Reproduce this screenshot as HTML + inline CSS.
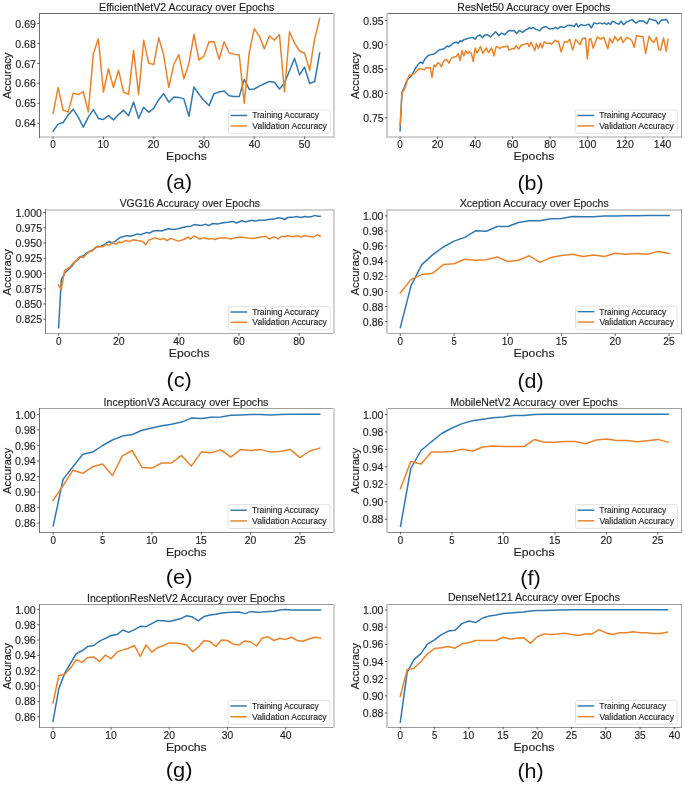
<!DOCTYPE html>
<html><head><meta charset="utf-8"><style>
html,body{margin:0;padding:0;background:#fff;}
svg{display:block;}
text{font-family:"Liberation Sans",sans-serif;}
</style></head><body>
<svg width="685" height="786" viewBox="0 0 685 786">
<defs><filter id="soft" x="0" y="0" width="100%" height="100%" filterUnits="userSpaceOnUse"><feGaussianBlur stdDeviation="0.45"/></filter></defs>
<rect width="685" height="786" fill="#fff"/>
<g filter="url(#soft)">
<clipPath id="ca"><rect x="39.5" y="13.4" width="294.5" height="123.19999999999999"/></clipPath>
<g clip-path="url(#ca)">
<polyline points="53.10,131.20 58.13,124.10 63.16,122.50 68.19,114.90 73.22,109.30 78.25,117.20 83.28,127.10 88.31,117.20 93.34,109.60 98.37,118.40 103.40,119.50 108.43,115.70 113.46,119.90 118.49,114.50 123.52,110.30 128.55,115.70 133.58,101.90 138.61,118.40 143.64,107.30 148.67,112.30 153.70,108.30 158.73,99.70 163.76,93.60 168.79,102.20 173.82,97.10 178.85,97.40 183.88,98.90 188.91,116.40 193.94,87.00 198.97,94.30 204.00,100.40 209.03,105.60 214.06,93.60 219.09,92.00 224.12,91.00 229.15,95.80 234.18,96.60 239.21,96.60 244.24,79.40 249.27,89.40 254.30,89.00 259.33,86.10 264.36,83.80 269.39,81.40 274.42,82.30 279.45,89.00 284.48,83.00 289.51,70.70 294.54,58.40 299.57,74.90 304.60,67.20 309.63,83.50 314.66,81.50 319.69,53.20" fill="none" stroke="#3177ad" stroke-width="1.5" stroke-linejoin="round" stroke-linecap="square"/>
<polyline points="53.10,113.40 58.13,87.50 63.16,110.30 68.19,111.90 73.22,93.10 78.25,94.60 83.28,91.70 88.31,111.90 93.34,53.90 98.37,38.60 103.40,92.00 108.43,68.70 113.46,87.50 118.49,70.20 123.52,92.00 128.55,94.40 133.58,50.40 138.61,94.60 143.64,40.20 148.67,63.00 153.70,64.60 158.73,37.60 163.76,55.40 168.79,87.50 173.82,64.10 178.85,54.70 183.88,78.80 188.91,63.50 193.94,34.50 198.97,60.00 204.00,56.20 209.03,41.70 214.06,41.70 219.09,59.20 224.12,41.70 229.15,52.80 234.18,54.40 239.21,54.70 244.24,103.20 249.27,52.40 254.30,28.70 259.33,36.20 264.36,48.90 269.39,35.80 274.42,40.20 279.45,34.50 284.48,92.00 289.51,31.70 294.54,43.20 299.57,51.00 304.60,53.20 309.63,70.40 314.66,38.60 319.69,18.30" fill="none" stroke="#e8832c" stroke-width="1.5" stroke-linejoin="round" stroke-linecap="square"/>
</g>
<rect x="39" y="13" width="296" height="1" fill="#6a6a6a"/>
<rect x="39" y="136" width="296" height="2" fill="#d2d2d2"/>
<rect x="39" y="13" width="1" height="125" fill="#707070"/>
<rect x="333" y="13" width="2" height="125" fill="#d2d2d2"/>
<line x1="53.10" y1="136.6" x2="53.10" y2="138.9" stroke="#3a3a3a" stroke-width="0.8"/>
<text x="50.33" y="148.00" font-size="10.0" textLength="5.50" lengthAdjust="spacingAndGlyphs" fill="#1e1e1e" stroke="#1e1e1e" stroke-width="0.14">0</text>
<line x1="103.40" y1="136.6" x2="103.40" y2="138.9" stroke="#3a3a3a" stroke-width="0.8"/>
<text x="97.48" y="148.00" font-size="10.0" textLength="11.45" lengthAdjust="spacingAndGlyphs" fill="#1e1e1e" stroke="#1e1e1e" stroke-width="0.14">10</text>
<line x1="153.70" y1="136.6" x2="153.70" y2="138.9" stroke="#3a3a3a" stroke-width="0.8"/>
<text x="147.87" y="148.00" font-size="10.0" textLength="11.53" lengthAdjust="spacingAndGlyphs" fill="#1e1e1e" stroke="#1e1e1e" stroke-width="0.14">20</text>
<line x1="204.00" y1="136.6" x2="204.00" y2="138.9" stroke="#3a3a3a" stroke-width="0.8"/>
<text x="198.28" y="148.00" font-size="10.0" textLength="11.42" lengthAdjust="spacingAndGlyphs" fill="#1e1e1e" stroke="#1e1e1e" stroke-width="0.14">30</text>
<line x1="254.30" y1="136.6" x2="254.30" y2="138.9" stroke="#3a3a3a" stroke-width="0.8"/>
<text x="248.67" y="148.00" font-size="10.0" textLength="11.45" lengthAdjust="spacingAndGlyphs" fill="#1e1e1e" stroke="#1e1e1e" stroke-width="0.14">40</text>
<line x1="304.60" y1="136.6" x2="304.60" y2="138.9" stroke="#3a3a3a" stroke-width="0.8"/>
<text x="298.88" y="148.00" font-size="10.0" textLength="11.42" lengthAdjust="spacingAndGlyphs" fill="#1e1e1e" stroke="#1e1e1e" stroke-width="0.14">50</text>
<line x1="37.2" y1="23.50" x2="39.5" y2="23.50" stroke="#3a3a3a" stroke-width="0.8"/>
<text x="15.33" y="27.60" font-size="10.0" textLength="20.56" lengthAdjust="spacingAndGlyphs" fill="#1e1e1e" stroke="#1e1e1e" stroke-width="0.14">0.69</text>
<line x1="37.2" y1="43.46" x2="39.5" y2="43.46" stroke="#3a3a3a" stroke-width="0.8"/>
<text x="15.28" y="47.56" font-size="10.0" textLength="20.55" lengthAdjust="spacingAndGlyphs" fill="#1e1e1e" stroke="#1e1e1e" stroke-width="0.14">0.68</text>
<line x1="37.2" y1="63.42" x2="39.5" y2="63.42" stroke="#3a3a3a" stroke-width="0.8"/>
<text x="15.47" y="67.52" font-size="10.0" textLength="20.47" lengthAdjust="spacingAndGlyphs" fill="#1e1e1e" stroke="#1e1e1e" stroke-width="0.14">0.67</text>
<line x1="37.2" y1="83.38" x2="39.5" y2="83.38" stroke="#3a3a3a" stroke-width="0.8"/>
<text x="15.24" y="87.48" font-size="10.0" textLength="20.60" lengthAdjust="spacingAndGlyphs" fill="#1e1e1e" stroke="#1e1e1e" stroke-width="0.14">0.66</text>
<line x1="37.2" y1="103.34" x2="39.5" y2="103.34" stroke="#3a3a3a" stroke-width="0.8"/>
<text x="15.48" y="107.44" font-size="10.0" textLength="20.36" lengthAdjust="spacingAndGlyphs" fill="#1e1e1e" stroke="#1e1e1e" stroke-width="0.14">0.65</text>
<line x1="37.2" y1="123.30" x2="39.5" y2="123.30" stroke="#3a3a3a" stroke-width="0.8"/>
<text x="15.19" y="127.40" font-size="10.0" textLength="20.54" lengthAdjust="spacingAndGlyphs" fill="#1e1e1e" stroke="#1e1e1e" stroke-width="0.14">0.64</text>
<text x="99.05" y="10.90" font-size="10.0" textLength="175.32" lengthAdjust="spacingAndGlyphs" fill="#1e1e1e" stroke="#1e1e1e" stroke-width="0.14">EfficientNetV2 Accuracy over Epochs</text>
<text x="166.12" y="160.20" font-size="11.6" textLength="40.71" lengthAdjust="spacingAndGlyphs" fill="#1e1e1e" stroke="#1e1e1e" stroke-width="0.14">Epochs</text>
<text transform="translate(10.70,99.10) rotate(-90)" x="0" y="0" font-size="10.9" textLength="46.63" lengthAdjust="spacingAndGlyphs" fill="#1e1e1e" stroke="#1e1e1e" stroke-width="0.14">Accuracy</text>
<rect x="228.4" y="110" width="101.99999999999997" height="23.30000000000001" rx="1.8" fill="#fff" fill-opacity="0.85" stroke="#d6d6d6" stroke-width="0.7"/>
<line x1="230.6" y1="115.48" x2="247.20000000000002" y2="115.48" stroke="#3177ad" stroke-width="1.45"/>
<line x1="230.6" y1="125.96" x2="247.20000000000002" y2="125.96" stroke="#e8832c" stroke-width="1.45"/>
<text x="252.23" y="118.48" font-size="8.6" textLength="66.78" lengthAdjust="spacingAndGlyphs" fill="#1e1e1e" stroke="#1e1e1e" stroke-width="0.14">Training Accuracy</text>
<text x="252.36" y="128.96" font-size="8.6" textLength="74.53" lengthAdjust="spacingAndGlyphs" fill="#1e1e1e" stroke="#1e1e1e" stroke-width="0.14">Validation Accuracy</text>
<text x="166.02" y="189.40" font-size="20.8" textLength="26.00" lengthAdjust="spacingAndGlyphs" fill="#111">(a)</text>
<clipPath id="cb"><rect x="387.2" y="13.4" width="294.2" height="123.19999999999999"/></clipPath>
<g clip-path="url(#cb)">
<polyline points="400.10,130.70 401.98,91.80 403.85,88.70 405.73,83.40 407.60,79.60 409.48,77.30 411.36,75.80 413.23,72.70 415.11,68.90 416.98,65.90 418.86,63.60 420.74,62.00 422.61,63.60 424.49,59.80 426.36,57.50 428.24,55.50 430.12,54.90 431.99,54.40 433.87,54.00 435.74,52.90 437.62,50.90 439.50,49.80 441.37,49.40 443.25,49.10 445.12,47.90 447.00,46.00 448.88,46.80 450.75,45.30 452.63,43.70 454.50,42.70 456.38,42.20 458.26,43.30 460.13,40.70 462.01,41.50 463.88,39.60 465.76,39.20 467.64,38.40 469.51,38.10 471.39,37.60 473.26,37.60 475.14,39.20 477.02,36.60 479.85,34.76 482.48,37.65 484.45,35.28 487.74,34.76 490.37,36.99 495.62,31.74 498.91,35.68 501.53,33.05 504.82,34.76 508.76,30.42 512.04,30.82 514.02,30.42 516.64,33.45 519.27,30.42 522.56,32.39 525.18,30.42 529.12,27.80 531.10,28.72 533.07,27.40 535.69,29.11 539.64,30.82 542.26,27.80 546.21,26.48 548.83,28.72 553.43,28.72 555.40,27.40 557.37,28.72 557.90,28.70 560.50,26.70 564.50,27.40 567.10,25.60 571.00,25.20 574.30,26.50 576.30,23.50 578.20,26.90 580.90,24.50 584.20,25.60 588.80,24.20 591.40,27.80 594.00,22.90 597.30,23.90 599.90,22.90 602.60,23.90 604.50,22.90 606.50,24.50 608.50,22.90 610.40,24.50 612.40,21.20 615.70,22.90 619.00,24.20 621.00,21.20 623.60,24.80 626.90,21.60 628.50,21.40 632.00,19.50 636.00,23.10 639.90,20.70 643.40,20.90 646.90,23.60 649.50,18.60 653.00,20.10 655.70,20.50 658.30,24.00 661.80,19.80 664.00,20.10 666.20,19.20 668.40,22.70" fill="none" stroke="#3177ad" stroke-width="1.5" stroke-linejoin="round" stroke-linecap="square"/>
<polyline points="400.10,125.00 401.98,92.60 403.85,90.30 405.73,85.70 407.60,78.80 409.48,75.00 411.36,74.70 413.23,74.30 415.11,72.70 416.98,70.70 418.86,69.20 420.74,68.60 422.61,69.20 424.49,69.70 426.36,67.40 428.24,68.10 430.12,67.40 431.99,77.30 433.87,65.10 435.74,66.60 437.62,62.80 439.50,63.60 441.37,66.60 443.25,62.00 445.12,59.80 447.00,59.80 448.88,63.10 450.75,59.00 452.63,57.50 454.50,57.00 456.38,56.40 458.26,53.70 460.13,60.50 462.01,50.60 463.88,55.90 465.76,50.60 467.64,53.70 469.51,51.80 471.39,53.40 473.26,61.60 475.14,47.90 477.02,52.90 480.51,46.58 482.88,53.42 486.42,47.90 488.39,52.76 491.68,47.90 493.91,55.78 496.28,46.19 499.56,48.42 502.85,46.85 505.47,46.85 507.45,45.80 509.15,50.13 512.70,48.42 514.02,49.21 516.25,45.53 518.61,49.21 521.24,45.27 525.18,43.96 527.81,43.56 529.12,46.58 531.10,42.25 532.41,45.27 534.77,50.53 536.35,43.56 538.32,48.42 540.29,43.17 542.26,47.90 544.23,41.85 547.52,43.56 550.15,42.91 551.46,44.22 555.40,40.28 557.37,41.85 558.50,41.30 561.20,52.10 564.50,41.60 567.10,42.20 569.70,39.20 572.60,50.10 575.60,39.60 580.20,44.50 582.20,38.70 585.50,37.90 587.40,58.90 589.40,38.70 591.00,39.00 593.10,48.20 597.30,37.00 600.60,39.00 603.90,37.40 607.80,48.80 609.80,38.30 612.40,42.90 615.00,36.60 617.70,40.90 621.00,37.00 622.90,42.60 626.90,37.40 630.80,39.60 632.00,41.10 634.20,47.20 636.40,35.80 643.00,36.70 645.60,53.40 649.10,36.30 652.20,41.50 653.90,42.20 656.50,37.30 658.70,49.40 660.50,50.10 663.50,38.00 666.20,51.20 668.10,39.30" fill="none" stroke="#e8832c" stroke-width="1.5" stroke-linejoin="round" stroke-linecap="square"/>
</g>
<rect x="386" y="13" width="296" height="1" fill="#6a6a6a"/>
<rect x="386" y="136" width="296" height="2" fill="#d2d2d2"/>
<rect x="386" y="13" width="2" height="125" fill="#cacaca"/>
<rect x="681" y="13" width="1" height="125" fill="#a0a0a0"/>
<line x1="400.10" y1="136.6" x2="400.10" y2="138.9" stroke="#3a3a3a" stroke-width="0.8"/>
<text x="397.33" y="148.00" font-size="10.0" textLength="5.50" lengthAdjust="spacingAndGlyphs" fill="#1e1e1e" stroke="#1e1e1e" stroke-width="0.14">0</text>
<line x1="437.62" y1="136.6" x2="437.62" y2="138.9" stroke="#3a3a3a" stroke-width="0.8"/>
<text x="431.79" y="148.00" font-size="10.0" textLength="11.53" lengthAdjust="spacingAndGlyphs" fill="#1e1e1e" stroke="#1e1e1e" stroke-width="0.14">20</text>
<line x1="475.14" y1="136.6" x2="475.14" y2="138.9" stroke="#3a3a3a" stroke-width="0.8"/>
<text x="469.51" y="148.00" font-size="10.0" textLength="11.45" lengthAdjust="spacingAndGlyphs" fill="#1e1e1e" stroke="#1e1e1e" stroke-width="0.14">40</text>
<line x1="512.66" y1="136.6" x2="512.66" y2="138.9" stroke="#3a3a3a" stroke-width="0.8"/>
<text x="506.81" y="148.00" font-size="10.0" textLength="11.58" lengthAdjust="spacingAndGlyphs" fill="#1e1e1e" stroke="#1e1e1e" stroke-width="0.14">60</text>
<line x1="550.18" y1="136.6" x2="550.18" y2="138.9" stroke="#3a3a3a" stroke-width="0.8"/>
<text x="544.35" y="148.00" font-size="10.0" textLength="11.57" lengthAdjust="spacingAndGlyphs" fill="#1e1e1e" stroke="#1e1e1e" stroke-width="0.14">80</text>
<line x1="587.70" y1="136.6" x2="587.70" y2="138.9" stroke="#3a3a3a" stroke-width="0.8"/>
<text x="578.76" y="148.00" font-size="10.0" textLength="17.50" lengthAdjust="spacingAndGlyphs" fill="#1e1e1e" stroke="#1e1e1e" stroke-width="0.14">100</text>
<line x1="625.22" y1="136.6" x2="625.22" y2="138.9" stroke="#3a3a3a" stroke-width="0.8"/>
<text x="616.28" y="148.00" font-size="10.0" textLength="17.50" lengthAdjust="spacingAndGlyphs" fill="#1e1e1e" stroke="#1e1e1e" stroke-width="0.14">120</text>
<line x1="662.74" y1="136.6" x2="662.74" y2="138.9" stroke="#3a3a3a" stroke-width="0.8"/>
<text x="653.80" y="148.00" font-size="10.0" textLength="17.50" lengthAdjust="spacingAndGlyphs" fill="#1e1e1e" stroke="#1e1e1e" stroke-width="0.14">140</text>
<line x1="384.9" y1="20.40" x2="387.2" y2="20.40" stroke="#3a3a3a" stroke-width="0.8"/>
<text x="363.18" y="24.50" font-size="10.0" textLength="20.36" lengthAdjust="spacingAndGlyphs" fill="#1e1e1e" stroke="#1e1e1e" stroke-width="0.14">0.95</text>
<line x1="384.9" y1="44.75" x2="387.2" y2="44.75" stroke="#3a3a3a" stroke-width="0.8"/>
<text x="362.99" y="48.85" font-size="10.0" textLength="20.50" lengthAdjust="spacingAndGlyphs" fill="#1e1e1e" stroke="#1e1e1e" stroke-width="0.14">0.90</text>
<line x1="384.9" y1="69.10" x2="387.2" y2="69.10" stroke="#3a3a3a" stroke-width="0.8"/>
<text x="363.18" y="73.20" font-size="10.0" textLength="20.36" lengthAdjust="spacingAndGlyphs" fill="#1e1e1e" stroke="#1e1e1e" stroke-width="0.14">0.85</text>
<line x1="384.9" y1="93.45" x2="387.2" y2="93.45" stroke="#3a3a3a" stroke-width="0.8"/>
<text x="362.99" y="97.55" font-size="10.0" textLength="20.50" lengthAdjust="spacingAndGlyphs" fill="#1e1e1e" stroke="#1e1e1e" stroke-width="0.14">0.80</text>
<line x1="384.9" y1="117.80" x2="387.2" y2="117.80" stroke="#3a3a3a" stroke-width="0.8"/>
<text x="363.18" y="121.90" font-size="10.0" textLength="20.36" lengthAdjust="spacingAndGlyphs" fill="#1e1e1e" stroke="#1e1e1e" stroke-width="0.14">0.75</text>
<text x="457.36" y="10.60" font-size="10.0" textLength="152.99" lengthAdjust="spacingAndGlyphs" fill="#1e1e1e" stroke="#1e1e1e" stroke-width="0.14">ResNet50 Accuracy over Epochs</text>
<text x="513.62" y="160.10" font-size="11.6" textLength="40.81" lengthAdjust="spacingAndGlyphs" fill="#1e1e1e" stroke="#1e1e1e" stroke-width="0.14">Epochs</text>
<text transform="translate(359.20,99.00) rotate(-90)" x="0" y="0" font-size="10.9" textLength="46.63" lengthAdjust="spacingAndGlyphs" fill="#1e1e1e" stroke="#1e1e1e" stroke-width="0.14">Accuracy</text>
<rect x="575.3" y="110" width="102.0" height="23.30000000000001" rx="1.8" fill="#fff" fill-opacity="0.85" stroke="#d6d6d6" stroke-width="0.7"/>
<line x1="577.5" y1="115.48" x2="594.0999999999999" y2="115.48" stroke="#3177ad" stroke-width="1.45"/>
<line x1="577.5" y1="125.96" x2="594.0999999999999" y2="125.96" stroke="#e8832c" stroke-width="1.45"/>
<text x="599.13" y="118.48" font-size="8.6" textLength="66.78" lengthAdjust="spacingAndGlyphs" fill="#1e1e1e" stroke="#1e1e1e" stroke-width="0.14">Training Accuracy</text>
<text x="599.26" y="128.96" font-size="8.6" textLength="74.53" lengthAdjust="spacingAndGlyphs" fill="#1e1e1e" stroke="#1e1e1e" stroke-width="0.14">Validation Accuracy</text>
<text x="517.41" y="190.20" font-size="20.8" textLength="26.22" lengthAdjust="spacingAndGlyphs" fill="#111">(b)</text>
<clipPath id="cc"><rect x="45.7" y="209.7" width="288.3" height="123.60000000000002"/></clipPath>
<g clip-path="url(#cc)">
<polyline points="58.60,327.80 61.30,279.50 64.90,272.80 68.50,269.50 71.50,266.50 74.80,262.10 77.30,260.40 80.60,256.60 83.90,255.50 87.20,252.60 90.50,251.00 93.80,249.30 97.20,246.40 100.50,246.40 103.80,245.00 107.10,242.70 109.60,241.40 112.00,243.40 115.40,241.10 119.50,237.80 122.80,236.80 126.90,235.60 130.00,236.30 133.20,235.50 137.20,233.90 140.40,234.70 146.10,232.60 149.30,233.10 153.30,231.00 158.10,230.40 161.30,231.00 168.50,228.80 173.40,229.40 178.20,228.80 185.40,226.70 191.00,226.20 194.20,224.60 200.70,225.60 205.50,224.30 208.70,225.60 212.70,223.50 217.50,224.00 223.10,222.70 228.00,222.30 232.80,221.40 236.40,223.00 242.00,220.70 245.30,221.90 251.70,220.30 254.90,221.10 258.90,220.30 264.50,220.30 268.50,219.50 274.20,219.10 278.20,217.80 281.40,218.20 284.60,219.50 287.80,217.50 294.20,217.00 297.40,216.60 300.70,217.50 304.70,216.60 308.70,217.00 311.90,216.60 314.80,215.40 318.00,216.20 320.30,216.20" fill="none" stroke="#3177ad" stroke-width="1.5" stroke-linejoin="round" stroke-linecap="square"/>
<polyline points="58.30,284.70 61.30,289.70 64.60,270.40 67.40,268.70 70.20,267.00 73.20,262.90 76.50,260.40 79.80,256.60 83.10,257.60 86.40,254.30 89.70,251.30 92.20,251.00 95.00,247.70 98.00,246.70 102.90,246.70 106.30,244.40 109.20,245.50 112.50,242.20 115.90,244.40 119.20,241.70 121.50,242.70 125.30,240.60 129.10,241.40 133.60,239.70 137.70,240.60 142.80,241.60 145.70,244.80 148.50,240.30 154.90,237.90 160.50,239.50 163.70,238.40 166.90,240.70 171.00,238.40 178.20,241.10 183.80,239.50 187.80,237.10 190.70,239.00 194.20,235.80 199.90,239.00 203.90,237.90 208.70,239.00 211.90,238.40 215.10,239.50 219.90,237.90 226.40,237.90 230.40,239.00 234.80,237.90 239.60,237.10 244.50,237.40 247.70,237.90 253.30,238.40 258.10,237.40 266.10,236.30 269.30,239.00 273.00,237.10 275.80,237.40 278.20,239.00 281.40,236.30 284.60,236.80 287.80,235.80 292.60,236.80 297.40,235.80 300.70,237.10 303.90,235.80 308.70,236.30 313.50,237.10 317.50,234.70 320.30,236.30" fill="none" stroke="#e8832c" stroke-width="1.5" stroke-linejoin="round" stroke-linecap="square"/>
</g>
<rect x="45" y="209" width="290" height="2" fill="#d0d0d0"/>
<rect x="45" y="333" width="290" height="1" fill="#a8a8a8"/>
<rect x="45" y="209" width="1" height="125" fill="#808080"/>
<rect x="333" y="209" width="2" height="125" fill="#d2d2d2"/>
<line x1="58.70" y1="333.3" x2="58.70" y2="335.6" stroke="#3a3a3a" stroke-width="0.8"/>
<text x="55.93" y="344.70" font-size="10.0" textLength="5.50" lengthAdjust="spacingAndGlyphs" fill="#1e1e1e" stroke="#1e1e1e" stroke-width="0.14">0</text>
<line x1="118.80" y1="333.3" x2="118.80" y2="335.6" stroke="#3a3a3a" stroke-width="0.8"/>
<text x="112.97" y="344.70" font-size="10.0" textLength="11.53" lengthAdjust="spacingAndGlyphs" fill="#1e1e1e" stroke="#1e1e1e" stroke-width="0.14">20</text>
<line x1="178.90" y1="333.3" x2="178.90" y2="335.6" stroke="#3a3a3a" stroke-width="0.8"/>
<text x="173.27" y="344.70" font-size="10.0" textLength="11.45" lengthAdjust="spacingAndGlyphs" fill="#1e1e1e" stroke="#1e1e1e" stroke-width="0.14">40</text>
<line x1="239.00" y1="333.3" x2="239.00" y2="335.6" stroke="#3a3a3a" stroke-width="0.8"/>
<text x="233.15" y="344.70" font-size="10.0" textLength="11.58" lengthAdjust="spacingAndGlyphs" fill="#1e1e1e" stroke="#1e1e1e" stroke-width="0.14">60</text>
<line x1="299.10" y1="333.3" x2="299.10" y2="335.6" stroke="#3a3a3a" stroke-width="0.8"/>
<text x="293.27" y="344.70" font-size="10.0" textLength="11.57" lengthAdjust="spacingAndGlyphs" fill="#1e1e1e" stroke="#1e1e1e" stroke-width="0.14">80</text>
<line x1="43.400000000000006" y1="212.50" x2="45.7" y2="212.50" stroke="#3a3a3a" stroke-width="0.8"/>
<text x="15.57" y="216.60" font-size="10.0" textLength="26.43" lengthAdjust="spacingAndGlyphs" fill="#1e1e1e" stroke="#1e1e1e" stroke-width="0.14">1.000</text>
<line x1="43.400000000000006" y1="227.74" x2="45.7" y2="227.74" stroke="#3a3a3a" stroke-width="0.8"/>
<text x="15.70" y="231.84" font-size="10.0" textLength="26.34" lengthAdjust="spacingAndGlyphs" fill="#1e1e1e" stroke="#1e1e1e" stroke-width="0.14">0.975</text>
<line x1="43.400000000000006" y1="242.98" x2="45.7" y2="242.98" stroke="#3a3a3a" stroke-width="0.8"/>
<text x="15.51" y="247.08" font-size="10.0" textLength="26.48" lengthAdjust="spacingAndGlyphs" fill="#1e1e1e" stroke="#1e1e1e" stroke-width="0.14">0.950</text>
<line x1="43.400000000000006" y1="258.22" x2="45.7" y2="258.22" stroke="#3a3a3a" stroke-width="0.8"/>
<text x="15.70" y="262.32" font-size="10.0" textLength="26.34" lengthAdjust="spacingAndGlyphs" fill="#1e1e1e" stroke="#1e1e1e" stroke-width="0.14">0.925</text>
<line x1="43.400000000000006" y1="273.46" x2="45.7" y2="273.46" stroke="#3a3a3a" stroke-width="0.8"/>
<text x="15.51" y="277.56" font-size="10.0" textLength="26.48" lengthAdjust="spacingAndGlyphs" fill="#1e1e1e" stroke="#1e1e1e" stroke-width="0.14">0.900</text>
<line x1="43.400000000000006" y1="288.70" x2="45.7" y2="288.70" stroke="#3a3a3a" stroke-width="0.8"/>
<text x="15.70" y="292.80" font-size="10.0" textLength="26.34" lengthAdjust="spacingAndGlyphs" fill="#1e1e1e" stroke="#1e1e1e" stroke-width="0.14">0.875</text>
<line x1="43.400000000000006" y1="303.94" x2="45.7" y2="303.94" stroke="#3a3a3a" stroke-width="0.8"/>
<text x="15.51" y="308.04" font-size="10.0" textLength="26.48" lengthAdjust="spacingAndGlyphs" fill="#1e1e1e" stroke="#1e1e1e" stroke-width="0.14">0.850</text>
<line x1="43.400000000000006" y1="319.18" x2="45.7" y2="319.18" stroke="#3a3a3a" stroke-width="0.8"/>
<text x="15.70" y="323.28" font-size="10.0" textLength="26.34" lengthAdjust="spacingAndGlyphs" fill="#1e1e1e" stroke="#1e1e1e" stroke-width="0.14">0.825</text>
<text x="119.65" y="207.00" font-size="10.0" textLength="140.23" lengthAdjust="spacingAndGlyphs" fill="#1e1e1e" stroke="#1e1e1e" stroke-width="0.14">VGG16 Accuracy over Epochs</text>
<text x="168.82" y="357.00" font-size="11.6" textLength="40.71" lengthAdjust="spacingAndGlyphs" fill="#1e1e1e" stroke="#1e1e1e" stroke-width="0.14">Epochs</text>
<text transform="translate(10.70,295.60) rotate(-90)" x="0" y="0" font-size="10.9" textLength="46.63" lengthAdjust="spacingAndGlyphs" fill="#1e1e1e" stroke="#1e1e1e" stroke-width="0.14">Accuracy</text>
<rect x="228.4" y="306.6" width="101.9" height="23.0" rx="1.8" fill="#fff" fill-opacity="0.85" stroke="#d6d6d6" stroke-width="0.7"/>
<line x1="230.6" y1="312.00" x2="247.20000000000002" y2="312.00" stroke="#3177ad" stroke-width="1.45"/>
<line x1="230.6" y1="322.36" x2="247.20000000000002" y2="322.36" stroke="#e8832c" stroke-width="1.45"/>
<text x="252.23" y="315.00" font-size="8.6" textLength="66.78" lengthAdjust="spacingAndGlyphs" fill="#1e1e1e" stroke="#1e1e1e" stroke-width="0.14">Training Accuracy</text>
<text x="252.36" y="325.36" font-size="8.6" textLength="74.53" lengthAdjust="spacingAndGlyphs" fill="#1e1e1e" stroke="#1e1e1e" stroke-width="0.14">Validation Accuracy</text>
<text x="166.50" y="387.00" font-size="20.8" textLength="25.33" lengthAdjust="spacingAndGlyphs" fill="#111">(c)</text>
<clipPath id="cd"><rect x="387.1" y="209.7" width="294.29999999999995" height="123.90000000000003"/></clipPath>
<g clip-path="url(#cd)">
<polyline points="400.30,327.60 411.05,285.60 421.80,264.60 432.55,254.90 443.30,247.00 454.05,241.10 464.80,237.40 475.55,230.80 486.30,231.30 497.05,226.50 507.80,226.50 518.55,222.50 529.30,220.80 540.05,220.80 550.80,218.80 561.55,218.40 572.30,216.40 583.05,216.70 593.80,216.70 604.55,215.90 615.30,215.90 626.05,215.80 636.80,215.70 647.55,215.60 658.30,215.60 669.05,215.60" fill="none" stroke="#3177ad" stroke-width="1.5" stroke-linejoin="round" stroke-linecap="square"/>
<polyline points="400.30,293.00 411.05,279.40 421.80,274.60 432.55,273.30 443.30,264.60 454.05,263.70 464.80,259.30 475.55,260.20 486.30,259.70 497.05,256.90 507.80,261.50 518.55,260.20 529.30,255.80 540.05,262.40 550.80,257.60 561.55,255.40 572.30,254.30 583.05,256.50 593.80,254.90 604.55,256.50 615.30,253.20 626.05,254.30 636.80,253.60 647.55,254.30 658.30,251.40 669.05,253.60" fill="none" stroke="#e8832c" stroke-width="1.5" stroke-linejoin="round" stroke-linecap="square"/>
</g>
<rect x="386" y="209" width="296" height="2" fill="#d0d0d0"/>
<rect x="386" y="333" width="296" height="1" fill="#a8a8a8"/>
<rect x="386" y="209" width="2" height="125" fill="#cacaca"/>
<rect x="681" y="209" width="1" height="125" fill="#a0a0a0"/>
<line x1="400.30" y1="333.6" x2="400.30" y2="335.90000000000003" stroke="#3a3a3a" stroke-width="0.8"/>
<text x="397.53" y="345.00" font-size="10.0" textLength="5.50" lengthAdjust="spacingAndGlyphs" fill="#1e1e1e" stroke="#1e1e1e" stroke-width="0.14">0</text>
<line x1="454.05" y1="333.6" x2="454.05" y2="335.90000000000003" stroke="#3a3a3a" stroke-width="0.8"/>
<text x="451.44" y="345.00" font-size="10.0" textLength="5.23" lengthAdjust="spacingAndGlyphs" fill="#1e1e1e" stroke="#1e1e1e" stroke-width="0.14">5</text>
<line x1="507.80" y1="333.6" x2="507.80" y2="335.90000000000003" stroke="#3a3a3a" stroke-width="0.8"/>
<text x="501.88" y="345.00" font-size="10.0" textLength="11.45" lengthAdjust="spacingAndGlyphs" fill="#1e1e1e" stroke="#1e1e1e" stroke-width="0.14">10</text>
<line x1="561.55" y1="333.6" x2="561.55" y2="335.90000000000003" stroke="#3a3a3a" stroke-width="0.8"/>
<text x="555.74" y="345.00" font-size="10.0" textLength="11.30" lengthAdjust="spacingAndGlyphs" fill="#1e1e1e" stroke="#1e1e1e" stroke-width="0.14">15</text>
<line x1="615.30" y1="333.6" x2="615.30" y2="335.90000000000003" stroke="#3a3a3a" stroke-width="0.8"/>
<text x="609.47" y="345.00" font-size="10.0" textLength="11.53" lengthAdjust="spacingAndGlyphs" fill="#1e1e1e" stroke="#1e1e1e" stroke-width="0.14">20</text>
<line x1="669.05" y1="333.6" x2="669.05" y2="335.90000000000003" stroke="#3a3a3a" stroke-width="0.8"/>
<text x="663.32" y="345.00" font-size="10.0" textLength="11.38" lengthAdjust="spacingAndGlyphs" fill="#1e1e1e" stroke="#1e1e1e" stroke-width="0.14">25</text>
<line x1="384.8" y1="215.90" x2="387.1" y2="215.90" stroke="#3a3a3a" stroke-width="0.8"/>
<text x="362.94" y="220.00" font-size="10.0" textLength="20.44" lengthAdjust="spacingAndGlyphs" fill="#1e1e1e" stroke="#1e1e1e" stroke-width="0.14">1.00</text>
<line x1="384.8" y1="231.00" x2="387.1" y2="231.00" stroke="#3a3a3a" stroke-width="0.8"/>
<text x="362.88" y="235.10" font-size="10.0" textLength="20.55" lengthAdjust="spacingAndGlyphs" fill="#1e1e1e" stroke="#1e1e1e" stroke-width="0.14">0.98</text>
<line x1="384.8" y1="246.10" x2="387.1" y2="246.10" stroke="#3a3a3a" stroke-width="0.8"/>
<text x="362.84" y="250.20" font-size="10.0" textLength="20.60" lengthAdjust="spacingAndGlyphs" fill="#1e1e1e" stroke="#1e1e1e" stroke-width="0.14">0.96</text>
<line x1="384.8" y1="261.20" x2="387.1" y2="261.20" stroke="#3a3a3a" stroke-width="0.8"/>
<text x="362.79" y="265.30" font-size="10.0" textLength="20.54" lengthAdjust="spacingAndGlyphs" fill="#1e1e1e" stroke="#1e1e1e" stroke-width="0.14">0.94</text>
<line x1="384.8" y1="276.30" x2="387.1" y2="276.30" stroke="#3a3a3a" stroke-width="0.8"/>
<text x="363.22" y="280.40" font-size="10.0" textLength="20.32" lengthAdjust="spacingAndGlyphs" fill="#1e1e1e" stroke="#1e1e1e" stroke-width="0.14">0.92</text>
<line x1="384.8" y1="291.40" x2="387.1" y2="291.40" stroke="#3a3a3a" stroke-width="0.8"/>
<text x="362.89" y="295.50" font-size="10.0" textLength="20.50" lengthAdjust="spacingAndGlyphs" fill="#1e1e1e" stroke="#1e1e1e" stroke-width="0.14">0.90</text>
<line x1="384.8" y1="306.50" x2="387.1" y2="306.50" stroke="#3a3a3a" stroke-width="0.8"/>
<text x="362.88" y="310.60" font-size="10.0" textLength="20.55" lengthAdjust="spacingAndGlyphs" fill="#1e1e1e" stroke="#1e1e1e" stroke-width="0.14">0.88</text>
<line x1="384.8" y1="321.60" x2="387.1" y2="321.60" stroke="#3a3a3a" stroke-width="0.8"/>
<text x="362.84" y="325.70" font-size="10.0" textLength="20.60" lengthAdjust="spacingAndGlyphs" fill="#1e1e1e" stroke="#1e1e1e" stroke-width="0.14">0.86</text>
<text x="459.74" y="207.00" font-size="10.0" textLength="149.02" lengthAdjust="spacingAndGlyphs" fill="#1e1e1e" stroke="#1e1e1e" stroke-width="0.14">Xception Accuracy over Epochs</text>
<text x="513.62" y="357.00" font-size="11.6" textLength="40.92" lengthAdjust="spacingAndGlyphs" fill="#1e1e1e" stroke="#1e1e1e" stroke-width="0.14">Epochs</text>
<text transform="translate(359.20,295.60) rotate(-90)" x="0" y="0" font-size="10.9" textLength="46.63" lengthAdjust="spacingAndGlyphs" fill="#1e1e1e" stroke="#1e1e1e" stroke-width="0.14">Accuracy</text>
<rect x="575.5" y="306.2" width="101.60000000000002" height="23.19999999999999" rx="1.8" fill="#fff" fill-opacity="0.85" stroke="#d6d6d6" stroke-width="0.7"/>
<line x1="577.7" y1="311.65" x2="594.3" y2="311.65" stroke="#3177ad" stroke-width="1.45"/>
<line x1="577.7" y1="322.09" x2="594.3" y2="322.09" stroke="#e8832c" stroke-width="1.45"/>
<text x="599.33" y="314.65" font-size="8.6" textLength="66.78" lengthAdjust="spacingAndGlyphs" fill="#1e1e1e" stroke="#1e1e1e" stroke-width="0.14">Training Accuracy</text>
<text x="599.46" y="325.09" font-size="8.6" textLength="74.53" lengthAdjust="spacingAndGlyphs" fill="#1e1e1e" stroke="#1e1e1e" stroke-width="0.14">Validation Accuracy</text>
<text x="517.41" y="388.00" font-size="20.8" textLength="26.22" lengthAdjust="spacingAndGlyphs" fill="#111">(d)</text>
<clipPath id="ce"><rect x="39.4" y="408.6" width="294.6" height="123.5"/></clipPath>
<g clip-path="url(#ce)">
<polyline points="53.20,525.90 63.07,479.40 72.94,466.70 82.81,454.30 92.68,452.10 102.55,445.50 112.42,440.00 122.29,436.10 132.16,434.60 142.03,430.20 151.90,428.00 161.77,425.80 171.64,424.30 181.51,422.10 191.38,418.10 201.25,418.60 211.12,417.30 220.99,417.00 230.86,415.30 240.73,414.90 250.60,414.60 260.47,414.40 270.34,414.90 280.21,414.40 290.08,414.20 299.95,414.20 309.82,414.20 319.69,414.20" fill="none" stroke="#3177ad" stroke-width="1.5" stroke-linejoin="round" stroke-linecap="square"/>
<polyline points="53.20,500.20 63.07,485.60 72.94,470.30 82.81,473.30 92.68,466.70 102.55,464.10 112.42,475.50 122.29,455.80 132.16,450.50 142.03,467.40 151.90,468.10 161.77,463.00 171.64,463.00 181.51,455.40 191.38,466.10 201.25,452.10 211.12,452.70 220.99,449.90 230.86,457.10 240.73,449.40 250.60,450.50 260.47,449.40 270.34,452.10 280.21,451.60 290.08,449.40 299.95,457.60 309.82,451.00 319.69,448.10" fill="none" stroke="#e8832c" stroke-width="1.5" stroke-linejoin="round" stroke-linecap="square"/>
</g>
<rect x="39" y="408" width="296" height="1" fill="#a0a0a0"/>
<rect x="39" y="532" width="296" height="1" fill="#858585"/>
<rect x="39" y="408" width="1" height="125" fill="#707070"/>
<rect x="333" y="408" width="2" height="125" fill="#d2d2d2"/>
<line x1="53.20" y1="532.1" x2="53.20" y2="534.4" stroke="#3a3a3a" stroke-width="0.8"/>
<text x="50.43" y="543.50" font-size="10.0" textLength="5.50" lengthAdjust="spacingAndGlyphs" fill="#1e1e1e" stroke="#1e1e1e" stroke-width="0.14">0</text>
<line x1="102.55" y1="532.1" x2="102.55" y2="534.4" stroke="#3a3a3a" stroke-width="0.8"/>
<text x="99.94" y="543.50" font-size="10.0" textLength="5.23" lengthAdjust="spacingAndGlyphs" fill="#1e1e1e" stroke="#1e1e1e" stroke-width="0.14">5</text>
<line x1="151.90" y1="532.1" x2="151.90" y2="534.4" stroke="#3a3a3a" stroke-width="0.8"/>
<text x="145.98" y="543.50" font-size="10.0" textLength="11.45" lengthAdjust="spacingAndGlyphs" fill="#1e1e1e" stroke="#1e1e1e" stroke-width="0.14">10</text>
<line x1="201.25" y1="532.1" x2="201.25" y2="534.4" stroke="#3a3a3a" stroke-width="0.8"/>
<text x="195.44" y="543.50" font-size="10.0" textLength="11.30" lengthAdjust="spacingAndGlyphs" fill="#1e1e1e" stroke="#1e1e1e" stroke-width="0.14">15</text>
<line x1="250.60" y1="532.1" x2="250.60" y2="534.4" stroke="#3a3a3a" stroke-width="0.8"/>
<text x="244.77" y="543.50" font-size="10.0" textLength="11.53" lengthAdjust="spacingAndGlyphs" fill="#1e1e1e" stroke="#1e1e1e" stroke-width="0.14">20</text>
<line x1="299.95" y1="532.1" x2="299.95" y2="534.4" stroke="#3a3a3a" stroke-width="0.8"/>
<text x="294.22" y="543.50" font-size="10.0" textLength="11.38" lengthAdjust="spacingAndGlyphs" fill="#1e1e1e" stroke="#1e1e1e" stroke-width="0.14">25</text>
<line x1="37.1" y1="414.40" x2="39.4" y2="414.40" stroke="#3a3a3a" stroke-width="0.8"/>
<text x="15.24" y="418.50" font-size="10.0" textLength="20.44" lengthAdjust="spacingAndGlyphs" fill="#1e1e1e" stroke="#1e1e1e" stroke-width="0.14">1.00</text>
<line x1="37.1" y1="429.93" x2="39.4" y2="429.93" stroke="#3a3a3a" stroke-width="0.8"/>
<text x="15.18" y="434.03" font-size="10.0" textLength="20.55" lengthAdjust="spacingAndGlyphs" fill="#1e1e1e" stroke="#1e1e1e" stroke-width="0.14">0.98</text>
<line x1="37.1" y1="445.46" x2="39.4" y2="445.46" stroke="#3a3a3a" stroke-width="0.8"/>
<text x="15.14" y="449.56" font-size="10.0" textLength="20.60" lengthAdjust="spacingAndGlyphs" fill="#1e1e1e" stroke="#1e1e1e" stroke-width="0.14">0.96</text>
<line x1="37.1" y1="460.99" x2="39.4" y2="460.99" stroke="#3a3a3a" stroke-width="0.8"/>
<text x="15.09" y="465.09" font-size="10.0" textLength="20.54" lengthAdjust="spacingAndGlyphs" fill="#1e1e1e" stroke="#1e1e1e" stroke-width="0.14">0.94</text>
<line x1="37.1" y1="476.52" x2="39.4" y2="476.52" stroke="#3a3a3a" stroke-width="0.8"/>
<text x="15.52" y="480.62" font-size="10.0" textLength="20.32" lengthAdjust="spacingAndGlyphs" fill="#1e1e1e" stroke="#1e1e1e" stroke-width="0.14">0.92</text>
<line x1="37.1" y1="492.05" x2="39.4" y2="492.05" stroke="#3a3a3a" stroke-width="0.8"/>
<text x="15.19" y="496.15" font-size="10.0" textLength="20.50" lengthAdjust="spacingAndGlyphs" fill="#1e1e1e" stroke="#1e1e1e" stroke-width="0.14">0.90</text>
<line x1="37.1" y1="507.58" x2="39.4" y2="507.58" stroke="#3a3a3a" stroke-width="0.8"/>
<text x="15.18" y="511.68" font-size="10.0" textLength="20.55" lengthAdjust="spacingAndGlyphs" fill="#1e1e1e" stroke="#1e1e1e" stroke-width="0.14">0.88</text>
<line x1="37.1" y1="523.11" x2="39.4" y2="523.11" stroke="#3a3a3a" stroke-width="0.8"/>
<text x="15.14" y="527.21" font-size="10.0" textLength="20.60" lengthAdjust="spacingAndGlyphs" fill="#1e1e1e" stroke="#1e1e1e" stroke-width="0.14">0.86</text>
<text x="103.64" y="405.70" font-size="10.0" textLength="164.82" lengthAdjust="spacingAndGlyphs" fill="#1e1e1e" stroke="#1e1e1e" stroke-width="0.14">InceptionV3 Accuracy over Epochs</text>
<text x="165.92" y="555.50" font-size="11.6" textLength="40.81" lengthAdjust="spacingAndGlyphs" fill="#1e1e1e" stroke="#1e1e1e" stroke-width="0.14">Epochs</text>
<text transform="translate(10.70,493.90) rotate(-90)" x="0" y="0" font-size="10.9" textLength="46.03" lengthAdjust="spacingAndGlyphs" fill="#1e1e1e" stroke="#1e1e1e" stroke-width="0.14">Accuracy</text>
<rect x="228.1" y="504.6" width="101.9" height="23.899999999999977" rx="1.8" fill="#fff" fill-opacity="0.85" stroke="#d6d6d6" stroke-width="0.7"/>
<line x1="230.29999999999998" y1="510.22" x2="246.9" y2="510.22" stroke="#3177ad" stroke-width="1.45"/>
<line x1="230.29999999999998" y1="520.97" x2="246.9" y2="520.97" stroke="#e8832c" stroke-width="1.45"/>
<text x="251.93" y="513.22" font-size="8.6" textLength="66.78" lengthAdjust="spacingAndGlyphs" fill="#1e1e1e" stroke="#1e1e1e" stroke-width="0.14">Training Accuracy</text>
<text x="252.06" y="523.97" font-size="8.6" textLength="74.53" lengthAdjust="spacingAndGlyphs" fill="#1e1e1e" stroke="#1e1e1e" stroke-width="0.14">Validation Accuracy</text>
<text x="165.79" y="583.50" font-size="20.8" textLength="26.78" lengthAdjust="spacingAndGlyphs" fill="#111">(e)</text>
<clipPath id="cf"><rect x="387.1" y="408.6" width="294.29999999999995" height="123.5"/></clipPath>
<g clip-path="url(#cf)">
<polyline points="400.50,526.50 410.79,468.50 421.08,450.50 431.37,441.80 441.66,433.50 451.95,428.00 462.24,423.60 472.53,420.80 482.82,419.20 493.11,417.70 503.40,417.00 513.69,415.50 523.98,415.50 534.27,414.40 544.56,414.20 554.85,414.20 565.14,414.20 575.43,414.20 585.72,414.20 596.01,414.20 606.30,414.20 616.59,414.20 626.88,414.20 637.17,414.20 647.46,414.20 657.75,414.20 668.04,414.20" fill="none" stroke="#3177ad" stroke-width="1.5" stroke-linejoin="round" stroke-linecap="square"/>
<polyline points="400.50,488.60 410.79,461.50 421.08,464.10 431.37,452.10 441.66,452.10 451.95,451.40 462.24,449.20 472.53,451.00 482.82,447.00 493.11,445.90 503.40,446.60 513.69,446.60 523.98,446.60 534.27,439.60 544.56,442.20 554.85,442.20 565.14,441.60 575.43,441.60 585.72,443.80 596.01,440.00 606.30,438.90 616.59,440.50 626.88,440.50 637.17,441.80 647.46,440.70 657.75,439.40 668.04,442.20" fill="none" stroke="#e8832c" stroke-width="1.5" stroke-linejoin="round" stroke-linecap="square"/>
</g>
<rect x="386" y="408" width="296" height="1" fill="#a0a0a0"/>
<rect x="386" y="532" width="296" height="1" fill="#858585"/>
<rect x="386" y="408" width="2" height="125" fill="#cacaca"/>
<rect x="681" y="408" width="1" height="125" fill="#a0a0a0"/>
<line x1="400.50" y1="532.1" x2="400.50" y2="534.4" stroke="#3a3a3a" stroke-width="0.8"/>
<text x="397.73" y="543.50" font-size="10.0" textLength="5.50" lengthAdjust="spacingAndGlyphs" fill="#1e1e1e" stroke="#1e1e1e" stroke-width="0.14">0</text>
<line x1="451.95" y1="532.1" x2="451.95" y2="534.4" stroke="#3a3a3a" stroke-width="0.8"/>
<text x="449.34" y="543.50" font-size="10.0" textLength="5.23" lengthAdjust="spacingAndGlyphs" fill="#1e1e1e" stroke="#1e1e1e" stroke-width="0.14">5</text>
<line x1="503.40" y1="532.1" x2="503.40" y2="534.4" stroke="#3a3a3a" stroke-width="0.8"/>
<text x="497.48" y="543.50" font-size="10.0" textLength="11.45" lengthAdjust="spacingAndGlyphs" fill="#1e1e1e" stroke="#1e1e1e" stroke-width="0.14">10</text>
<line x1="554.85" y1="532.1" x2="554.85" y2="534.4" stroke="#3a3a3a" stroke-width="0.8"/>
<text x="549.04" y="543.50" font-size="10.0" textLength="11.30" lengthAdjust="spacingAndGlyphs" fill="#1e1e1e" stroke="#1e1e1e" stroke-width="0.14">15</text>
<line x1="606.30" y1="532.1" x2="606.30" y2="534.4" stroke="#3a3a3a" stroke-width="0.8"/>
<text x="600.47" y="543.50" font-size="10.0" textLength="11.53" lengthAdjust="spacingAndGlyphs" fill="#1e1e1e" stroke="#1e1e1e" stroke-width="0.14">20</text>
<line x1="657.75" y1="532.1" x2="657.75" y2="534.4" stroke="#3a3a3a" stroke-width="0.8"/>
<text x="652.02" y="543.50" font-size="10.0" textLength="11.38" lengthAdjust="spacingAndGlyphs" fill="#1e1e1e" stroke="#1e1e1e" stroke-width="0.14">25</text>
<line x1="384.8" y1="414.40" x2="387.1" y2="414.40" stroke="#3a3a3a" stroke-width="0.8"/>
<text x="362.94" y="418.50" font-size="10.0" textLength="20.44" lengthAdjust="spacingAndGlyphs" fill="#1e1e1e" stroke="#1e1e1e" stroke-width="0.14">1.00</text>
<line x1="384.8" y1="431.87" x2="387.1" y2="431.87" stroke="#3a3a3a" stroke-width="0.8"/>
<text x="362.88" y="435.97" font-size="10.0" textLength="20.55" lengthAdjust="spacingAndGlyphs" fill="#1e1e1e" stroke="#1e1e1e" stroke-width="0.14">0.98</text>
<line x1="384.8" y1="449.34" x2="387.1" y2="449.34" stroke="#3a3a3a" stroke-width="0.8"/>
<text x="362.84" y="453.44" font-size="10.0" textLength="20.60" lengthAdjust="spacingAndGlyphs" fill="#1e1e1e" stroke="#1e1e1e" stroke-width="0.14">0.96</text>
<line x1="384.8" y1="466.81" x2="387.1" y2="466.81" stroke="#3a3a3a" stroke-width="0.8"/>
<text x="362.79" y="470.91" font-size="10.0" textLength="20.54" lengthAdjust="spacingAndGlyphs" fill="#1e1e1e" stroke="#1e1e1e" stroke-width="0.14">0.94</text>
<line x1="384.8" y1="484.28" x2="387.1" y2="484.28" stroke="#3a3a3a" stroke-width="0.8"/>
<text x="363.22" y="488.38" font-size="10.0" textLength="20.32" lengthAdjust="spacingAndGlyphs" fill="#1e1e1e" stroke="#1e1e1e" stroke-width="0.14">0.92</text>
<line x1="384.8" y1="501.75" x2="387.1" y2="501.75" stroke="#3a3a3a" stroke-width="0.8"/>
<text x="362.89" y="505.85" font-size="10.0" textLength="20.50" lengthAdjust="spacingAndGlyphs" fill="#1e1e1e" stroke="#1e1e1e" stroke-width="0.14">0.90</text>
<line x1="384.8" y1="519.22" x2="387.1" y2="519.22" stroke="#3a3a3a" stroke-width="0.8"/>
<text x="362.88" y="523.32" font-size="10.0" textLength="20.55" lengthAdjust="spacingAndGlyphs" fill="#1e1e1e" stroke="#1e1e1e" stroke-width="0.14">0.88</text>
<text x="450.26" y="405.70" font-size="10.0" textLength="167.63" lengthAdjust="spacingAndGlyphs" fill="#1e1e1e" stroke="#1e1e1e" stroke-width="0.14">MobileNetV2 Accuracy over Epochs</text>
<text x="513.62" y="555.50" font-size="11.6" textLength="40.92" lengthAdjust="spacingAndGlyphs" fill="#1e1e1e" stroke="#1e1e1e" stroke-width="0.14">Epochs</text>
<text transform="translate(359.20,493.90) rotate(-90)" x="0" y="0" font-size="10.9" textLength="46.03" lengthAdjust="spacingAndGlyphs" fill="#1e1e1e" stroke="#1e1e1e" stroke-width="0.14">Accuracy</text>
<rect x="575.5" y="504.6" width="101.89999999999998" height="23.699999999999932" rx="1.8" fill="#fff" fill-opacity="0.85" stroke="#d6d6d6" stroke-width="0.7"/>
<line x1="577.7" y1="510.17" x2="594.3" y2="510.17" stroke="#3177ad" stroke-width="1.45"/>
<line x1="577.7" y1="520.83" x2="594.3" y2="520.83" stroke="#e8832c" stroke-width="1.45"/>
<text x="599.33" y="513.17" font-size="8.6" textLength="66.78" lengthAdjust="spacingAndGlyphs" fill="#1e1e1e" stroke="#1e1e1e" stroke-width="0.14">Training Accuracy</text>
<text x="599.46" y="523.83" font-size="8.6" textLength="74.53" lengthAdjust="spacingAndGlyphs" fill="#1e1e1e" stroke="#1e1e1e" stroke-width="0.14">Validation Accuracy</text>
<text x="520.29" y="584.50" font-size="20.8" textLength="20.60" lengthAdjust="spacingAndGlyphs" fill="#111">(f)</text>
<clipPath id="cg"><rect x="39.4" y="604.3" width="294.6" height="123.10000000000002"/></clipPath>
<g clip-path="url(#cg)">
<polyline points="53.00,721.50 58.81,688.70 64.63,673.40 70.44,663.50 76.26,653.60 82.08,650.80 87.89,646.40 93.71,645.50 99.52,641.20 105.34,638.30 111.15,635.50 116.97,634.60 122.78,630.00 128.59,632.40 134.41,629.60 140.23,626.30 146.04,626.70 151.86,623.60 157.67,620.40 163.49,620.80 169.30,621.50 175.12,620.10 180.93,618.60 186.75,615.80 192.56,617.10 198.38,620.80 204.19,616.40 210.01,614.90 215.82,614.20 221.64,613.10 227.45,612.50 233.27,612.30 239.08,612.00 244.90,613.60 250.71,611.60 256.52,612.30 262.34,612.00 268.15,611.40 273.97,611.20 279.79,609.90 285.60,609.60 291.42,609.90 297.23,610.10 303.05,610.10 308.86,609.90 314.68,610.10 320.49,610.10" fill="none" stroke="#3177ad" stroke-width="1.5" stroke-linejoin="round" stroke-linecap="square"/>
<polyline points="53.00,702.90 58.81,675.50 64.63,674.40 70.44,668.30 76.26,659.60 82.08,662.40 87.89,657.40 93.71,656.90 99.52,661.70 105.34,655.20 111.15,658.70 116.97,652.10 122.78,649.90 128.59,648.20 134.41,645.50 140.23,656.50 146.04,644.90 151.86,652.10 157.67,647.70 163.49,645.50 169.30,642.90 175.12,642.90 180.93,643.80 186.75,644.90 192.56,651.60 198.38,647.10 204.19,640.50 210.01,641.60 215.82,646.40 221.64,639.90 227.45,640.50 233.27,644.20 239.08,644.90 244.90,640.90 250.71,642.00 256.52,646.00 262.34,637.90 268.15,636.80 273.97,640.50 279.79,638.30 285.60,639.40 291.42,637.20 297.23,640.50 303.05,641.20 308.86,639.00 314.68,637.20 320.49,637.90" fill="none" stroke="#e8832c" stroke-width="1.5" stroke-linejoin="round" stroke-linecap="square"/>
</g>
<rect x="39" y="604" width="296" height="1" fill="#959595"/>
<rect x="39" y="727" width="296" height="1" fill="#9a9a9a"/>
<rect x="39" y="604" width="1" height="124" fill="#707070"/>
<rect x="333" y="604" width="2" height="124" fill="#d2d2d2"/>
<line x1="53.00" y1="727.4" x2="53.00" y2="729.6999999999999" stroke="#3a3a3a" stroke-width="0.8"/>
<text x="50.23" y="738.80" font-size="10.0" textLength="5.50" lengthAdjust="spacingAndGlyphs" fill="#1e1e1e" stroke="#1e1e1e" stroke-width="0.14">0</text>
<line x1="111.15" y1="727.4" x2="111.15" y2="729.6999999999999" stroke="#3a3a3a" stroke-width="0.8"/>
<text x="105.23" y="738.80" font-size="10.0" textLength="11.45" lengthAdjust="spacingAndGlyphs" fill="#1e1e1e" stroke="#1e1e1e" stroke-width="0.14">10</text>
<line x1="169.30" y1="727.4" x2="169.30" y2="729.6999999999999" stroke="#3a3a3a" stroke-width="0.8"/>
<text x="163.47" y="738.80" font-size="10.0" textLength="11.53" lengthAdjust="spacingAndGlyphs" fill="#1e1e1e" stroke="#1e1e1e" stroke-width="0.14">20</text>
<line x1="227.45" y1="727.4" x2="227.45" y2="729.6999999999999" stroke="#3a3a3a" stroke-width="0.8"/>
<text x="221.73" y="738.80" font-size="10.0" textLength="11.42" lengthAdjust="spacingAndGlyphs" fill="#1e1e1e" stroke="#1e1e1e" stroke-width="0.14">30</text>
<line x1="285.60" y1="727.4" x2="285.60" y2="729.6999999999999" stroke="#3a3a3a" stroke-width="0.8"/>
<text x="279.97" y="738.80" font-size="10.0" textLength="11.45" lengthAdjust="spacingAndGlyphs" fill="#1e1e1e" stroke="#1e1e1e" stroke-width="0.14">40</text>
<line x1="37.1" y1="609.40" x2="39.4" y2="609.40" stroke="#3a3a3a" stroke-width="0.8"/>
<text x="15.24" y="613.50" font-size="10.0" textLength="20.44" lengthAdjust="spacingAndGlyphs" fill="#1e1e1e" stroke="#1e1e1e" stroke-width="0.14">1.00</text>
<line x1="37.1" y1="624.73" x2="39.4" y2="624.73" stroke="#3a3a3a" stroke-width="0.8"/>
<text x="15.18" y="628.83" font-size="10.0" textLength="20.55" lengthAdjust="spacingAndGlyphs" fill="#1e1e1e" stroke="#1e1e1e" stroke-width="0.14">0.98</text>
<line x1="37.1" y1="640.06" x2="39.4" y2="640.06" stroke="#3a3a3a" stroke-width="0.8"/>
<text x="15.14" y="644.16" font-size="10.0" textLength="20.60" lengthAdjust="spacingAndGlyphs" fill="#1e1e1e" stroke="#1e1e1e" stroke-width="0.14">0.96</text>
<line x1="37.1" y1="655.39" x2="39.4" y2="655.39" stroke="#3a3a3a" stroke-width="0.8"/>
<text x="15.09" y="659.49" font-size="10.0" textLength="20.54" lengthAdjust="spacingAndGlyphs" fill="#1e1e1e" stroke="#1e1e1e" stroke-width="0.14">0.94</text>
<line x1="37.1" y1="670.72" x2="39.4" y2="670.72" stroke="#3a3a3a" stroke-width="0.8"/>
<text x="15.52" y="674.82" font-size="10.0" textLength="20.32" lengthAdjust="spacingAndGlyphs" fill="#1e1e1e" stroke="#1e1e1e" stroke-width="0.14">0.92</text>
<line x1="37.1" y1="686.05" x2="39.4" y2="686.05" stroke="#3a3a3a" stroke-width="0.8"/>
<text x="15.19" y="690.15" font-size="10.0" textLength="20.50" lengthAdjust="spacingAndGlyphs" fill="#1e1e1e" stroke="#1e1e1e" stroke-width="0.14">0.90</text>
<line x1="37.1" y1="701.38" x2="39.4" y2="701.38" stroke="#3a3a3a" stroke-width="0.8"/>
<text x="15.18" y="705.48" font-size="10.0" textLength="20.55" lengthAdjust="spacingAndGlyphs" fill="#1e1e1e" stroke="#1e1e1e" stroke-width="0.14">0.88</text>
<line x1="37.1" y1="716.71" x2="39.4" y2="716.71" stroke="#3a3a3a" stroke-width="0.8"/>
<text x="15.14" y="720.81" font-size="10.0" textLength="20.60" lengthAdjust="spacingAndGlyphs" fill="#1e1e1e" stroke="#1e1e1e" stroke-width="0.14">0.86</text>
<text x="87.05" y="601.50" font-size="10.0" textLength="197.90" lengthAdjust="spacingAndGlyphs" fill="#1e1e1e" stroke="#1e1e1e" stroke-width="0.14">InceptionResNetV2 Accuracy over Epochs</text>
<text x="165.92" y="751.10" font-size="11.6" textLength="40.81" lengthAdjust="spacingAndGlyphs" fill="#1e1e1e" stroke="#1e1e1e" stroke-width="0.14">Epochs</text>
<text transform="translate(10.70,689.60) rotate(-90)" x="0" y="0" font-size="10.9" textLength="46.63" lengthAdjust="spacingAndGlyphs" fill="#1e1e1e" stroke="#1e1e1e" stroke-width="0.14">Accuracy</text>
<rect x="228.1" y="700.3" width="101.9" height="24.0" rx="1.8" fill="#fff" fill-opacity="0.85" stroke="#d6d6d6" stroke-width="0.7"/>
<line x1="230.29999999999998" y1="705.94" x2="246.9" y2="705.94" stroke="#3177ad" stroke-width="1.45"/>
<line x1="230.29999999999998" y1="716.74" x2="246.9" y2="716.74" stroke="#e8832c" stroke-width="1.45"/>
<text x="251.93" y="708.94" font-size="8.6" textLength="66.78" lengthAdjust="spacingAndGlyphs" fill="#1e1e1e" stroke="#1e1e1e" stroke-width="0.14">Training Accuracy</text>
<text x="252.06" y="719.74" font-size="8.6" textLength="74.53" lengthAdjust="spacingAndGlyphs" fill="#1e1e1e" stroke="#1e1e1e" stroke-width="0.14">Validation Accuracy</text>
<text x="165.79" y="776.90" font-size="20.8" textLength="26.78" lengthAdjust="spacingAndGlyphs" fill="#111">(g)</text>
<clipPath id="ch"><rect x="387.1" y="604.3" width="294.29999999999995" height="122.80000000000007"/></clipPath>
<g clip-path="url(#ch)">
<polyline points="400.30,722.20 407.15,672.30 414.00,659.60 420.85,653.60 427.70,643.80 434.55,639.90 441.40,634.60 448.25,631.10 455.10,630.20 461.95,623.60 468.80,621.00 475.65,622.60 482.50,618.00 489.35,616.00 496.20,614.90 503.05,613.60 509.90,613.10 516.75,612.50 523.60,612.00 530.45,610.90 537.30,610.60 544.15,610.40 551.00,610.20 557.85,610.00 564.70,609.90 571.55,609.80 578.40,609.80 585.25,609.80 592.10,609.80 598.95,609.80 605.80,609.80 612.65,609.80 619.50,609.80 626.35,609.80 633.20,609.80 640.05,609.80 646.90,609.80 653.75,609.80 660.60,609.80 667.45,609.80" fill="none" stroke="#3177ad" stroke-width="1.5" stroke-linejoin="round" stroke-linecap="square"/>
<polyline points="400.30,696.30 407.15,669.60 414.00,668.30 420.85,661.70 427.70,653.60 434.55,648.60 441.40,647.70 448.25,646.40 455.10,648.20 461.95,643.80 468.80,642.70 475.65,640.50 482.50,640.50 489.35,640.50 496.20,640.50 503.05,637.20 509.90,639.00 516.75,638.30 523.60,637.70 530.45,643.40 537.30,636.80 544.15,633.90 551.00,634.60 557.85,633.90 564.70,633.30 571.55,634.60 578.40,635.50 585.25,633.90 592.10,633.90 598.95,629.60 605.80,632.80 612.65,634.40 619.50,632.80 626.35,632.80 633.20,631.70 640.05,632.80 646.90,632.80 653.75,633.50 660.60,633.50 667.45,632.20" fill="none" stroke="#e8832c" stroke-width="1.5" stroke-linejoin="round" stroke-linecap="square"/>
</g>
<rect x="386" y="604" width="296" height="1" fill="#959595"/>
<rect x="386" y="727" width="296" height="1" fill="#9a9a9a"/>
<rect x="386" y="604" width="2" height="124" fill="#cacaca"/>
<rect x="681" y="604" width="1" height="124" fill="#a0a0a0"/>
<line x1="400.30" y1="727.1" x2="400.30" y2="729.4" stroke="#3a3a3a" stroke-width="0.8"/>
<text x="397.53" y="738.50" font-size="10.0" textLength="5.50" lengthAdjust="spacingAndGlyphs" fill="#1e1e1e" stroke="#1e1e1e" stroke-width="0.14">0</text>
<line x1="434.55" y1="727.1" x2="434.55" y2="729.4" stroke="#3a3a3a" stroke-width="0.8"/>
<text x="431.94" y="738.50" font-size="10.0" textLength="5.23" lengthAdjust="spacingAndGlyphs" fill="#1e1e1e" stroke="#1e1e1e" stroke-width="0.14">5</text>
<line x1="468.80" y1="727.1" x2="468.80" y2="729.4" stroke="#3a3a3a" stroke-width="0.8"/>
<text x="462.88" y="738.50" font-size="10.0" textLength="11.45" lengthAdjust="spacingAndGlyphs" fill="#1e1e1e" stroke="#1e1e1e" stroke-width="0.14">10</text>
<line x1="503.05" y1="727.1" x2="503.05" y2="729.4" stroke="#3a3a3a" stroke-width="0.8"/>
<text x="497.24" y="738.50" font-size="10.0" textLength="11.30" lengthAdjust="spacingAndGlyphs" fill="#1e1e1e" stroke="#1e1e1e" stroke-width="0.14">15</text>
<line x1="537.30" y1="727.1" x2="537.30" y2="729.4" stroke="#3a3a3a" stroke-width="0.8"/>
<text x="531.47" y="738.50" font-size="10.0" textLength="11.53" lengthAdjust="spacingAndGlyphs" fill="#1e1e1e" stroke="#1e1e1e" stroke-width="0.14">20</text>
<line x1="571.55" y1="727.1" x2="571.55" y2="729.4" stroke="#3a3a3a" stroke-width="0.8"/>
<text x="565.82" y="738.50" font-size="10.0" textLength="11.38" lengthAdjust="spacingAndGlyphs" fill="#1e1e1e" stroke="#1e1e1e" stroke-width="0.14">25</text>
<line x1="605.80" y1="727.1" x2="605.80" y2="729.4" stroke="#3a3a3a" stroke-width="0.8"/>
<text x="600.08" y="738.50" font-size="10.0" textLength="11.42" lengthAdjust="spacingAndGlyphs" fill="#1e1e1e" stroke="#1e1e1e" stroke-width="0.14">30</text>
<line x1="640.05" y1="727.1" x2="640.05" y2="729.4" stroke="#3a3a3a" stroke-width="0.8"/>
<text x="634.43" y="738.50" font-size="10.0" textLength="11.27" lengthAdjust="spacingAndGlyphs" fill="#1e1e1e" stroke="#1e1e1e" stroke-width="0.14">35</text>
<line x1="674.30" y1="727.1" x2="674.30" y2="729.4" stroke="#3a3a3a" stroke-width="0.8"/>
<text x="668.67" y="738.50" font-size="10.0" textLength="11.45" lengthAdjust="spacingAndGlyphs" fill="#1e1e1e" stroke="#1e1e1e" stroke-width="0.14">40</text>
<line x1="384.8" y1="610.00" x2="387.1" y2="610.00" stroke="#3a3a3a" stroke-width="0.8"/>
<text x="362.94" y="614.10" font-size="10.0" textLength="20.44" lengthAdjust="spacingAndGlyphs" fill="#1e1e1e" stroke="#1e1e1e" stroke-width="0.14">1.00</text>
<line x1="384.8" y1="627.17" x2="387.1" y2="627.17" stroke="#3a3a3a" stroke-width="0.8"/>
<text x="362.88" y="631.27" font-size="10.0" textLength="20.55" lengthAdjust="spacingAndGlyphs" fill="#1e1e1e" stroke="#1e1e1e" stroke-width="0.14">0.98</text>
<line x1="384.8" y1="644.34" x2="387.1" y2="644.34" stroke="#3a3a3a" stroke-width="0.8"/>
<text x="362.84" y="648.44" font-size="10.0" textLength="20.60" lengthAdjust="spacingAndGlyphs" fill="#1e1e1e" stroke="#1e1e1e" stroke-width="0.14">0.96</text>
<line x1="384.8" y1="661.51" x2="387.1" y2="661.51" stroke="#3a3a3a" stroke-width="0.8"/>
<text x="362.79" y="665.61" font-size="10.0" textLength="20.54" lengthAdjust="spacingAndGlyphs" fill="#1e1e1e" stroke="#1e1e1e" stroke-width="0.14">0.94</text>
<line x1="384.8" y1="678.68" x2="387.1" y2="678.68" stroke="#3a3a3a" stroke-width="0.8"/>
<text x="363.22" y="682.78" font-size="10.0" textLength="20.32" lengthAdjust="spacingAndGlyphs" fill="#1e1e1e" stroke="#1e1e1e" stroke-width="0.14">0.92</text>
<line x1="384.8" y1="695.85" x2="387.1" y2="695.85" stroke="#3a3a3a" stroke-width="0.8"/>
<text x="362.89" y="699.95" font-size="10.0" textLength="20.50" lengthAdjust="spacingAndGlyphs" fill="#1e1e1e" stroke="#1e1e1e" stroke-width="0.14">0.90</text>
<line x1="384.8" y1="713.02" x2="387.1" y2="713.02" stroke="#3a3a3a" stroke-width="0.8"/>
<text x="362.88" y="717.12" font-size="10.0" textLength="20.55" lengthAdjust="spacingAndGlyphs" fill="#1e1e1e" stroke="#1e1e1e" stroke-width="0.14">0.88</text>
<text x="447.95" y="601.10" font-size="10.0" textLength="172.04" lengthAdjust="spacingAndGlyphs" fill="#1e1e1e" stroke="#1e1e1e" stroke-width="0.14">DenseNet121 Accuracy over Epochs</text>
<text x="513.42" y="750.90" font-size="11.6" textLength="41.02" lengthAdjust="spacingAndGlyphs" fill="#1e1e1e" stroke="#1e1e1e" stroke-width="0.14">Epochs</text>
<text transform="translate(359.20,689.60) rotate(-90)" x="0" y="0" font-size="10.9" textLength="46.63" lengthAdjust="spacingAndGlyphs" fill="#1e1e1e" stroke="#1e1e1e" stroke-width="0.14">Accuracy</text>
<rect x="575.5" y="700.3" width="101.60000000000002" height="23.90000000000009" rx="1.8" fill="#fff" fill-opacity="0.85" stroke="#d6d6d6" stroke-width="0.7"/>
<line x1="577.7" y1="705.92" x2="594.3" y2="705.92" stroke="#3177ad" stroke-width="1.45"/>
<line x1="577.7" y1="716.67" x2="594.3" y2="716.67" stroke="#e8832c" stroke-width="1.45"/>
<text x="599.33" y="708.92" font-size="8.6" textLength="66.78" lengthAdjust="spacingAndGlyphs" fill="#1e1e1e" stroke="#1e1e1e" stroke-width="0.14">Training Accuracy</text>
<text x="599.46" y="719.67" font-size="8.6" textLength="74.53" lengthAdjust="spacingAndGlyphs" fill="#1e1e1e" stroke="#1e1e1e" stroke-width="0.14">Validation Accuracy</text>
<text x="517.41" y="778.30" font-size="20.8" textLength="26.22" lengthAdjust="spacingAndGlyphs" fill="#111">(h)</text>
</g>
</svg>
</body></html>
